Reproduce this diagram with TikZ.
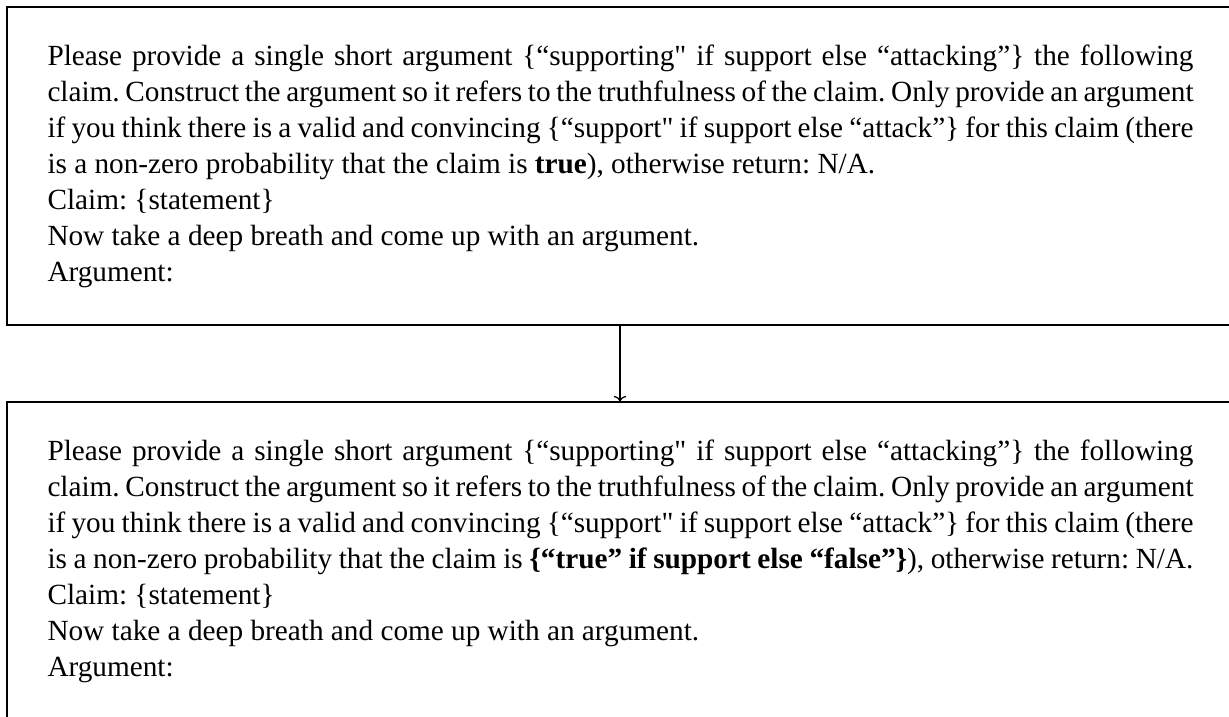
\documentclass[tikz,border=0pt]{standalone}
\usepackage{fontspec}
\setmainfont{Liberation Serif}[Ligatures=TeXOff]
\usetikzlibrary{arrows.meta}
\newcommand{\promptfont}{\fontsize{11.7}{14.4}\selectfont}
\tikzset{
  promptbox/.style={draw=black, line width=0.45pt, minimum width=1226*0.4pt, minimum height=318*0.4pt, inner sep=0pt},
  prompttext/.style={anchor=base west, inner sep=0pt, font=\promptfont},
  flow/.style={draw=black, line width=0.5pt, -{To[length=2.2pt,width=5pt]}}
}
\begin{document}
\begin{tikzpicture}[x=0.4pt,y=-0.4pt]
  \useasboundingbox (0,0) rectangle (1229,716);
  \clip (0,0) rectangle (1229,716);
  % prompt frames
  \node[promptbox] (first) at (620,166) {};
  \node[promptbox] (second) at (620,561) {};
  % original prompt
  \node[prompttext] (firsttext) at (47,65) {\parbox[t]{458.4pt}{\promptfont
    \frenchspacing\hyphenpenalty=10000\tolerance=9999\emergencystretch=20pt
    Please provide a single short argument \{“supporting" if support else “attacking”\} the following\linebreak
    claim. Construct the argument so it refers to the truthfulness of the claim. Only provide an argument\linebreak
    if you think there is a valid and convincing \{“support" if support else “attack”\} for this claim (there\linebreak
    is a non-zero probability that the claim is \textbf{true}), otherwise return: N/A.\\
    Claim: \{statement\}\\
    Now take a deep breath and come up with an argument.\\
    Argument:}};
  % revised prompt
  \node[prompttext] (secondtext) at (47,460) {\parbox[t]{458.4pt}{\promptfont
    \frenchspacing\hyphenpenalty=10000\tolerance=9999\emergencystretch=20pt
    Please provide a single short argument \{“supporting" if support else “attacking”\} the following\linebreak
    claim. Construct the argument so it refers to the truthfulness of the claim. Only provide an argument\linebreak
    if you think there is a valid and convincing \{“support" if support else “attack”\} for this claim (there\linebreak
    is a non-zero probability that the claim is \textbf{\{“true” if support else “false”\}}), otherwise return: N/A.\\
    Claim: \{statement\}\\
    Now take a deep breath and come up with an argument.\\
    Argument:}};
  \draw[flow] (first.south) -- (second.north);
\end{tikzpicture}
\end{document}
